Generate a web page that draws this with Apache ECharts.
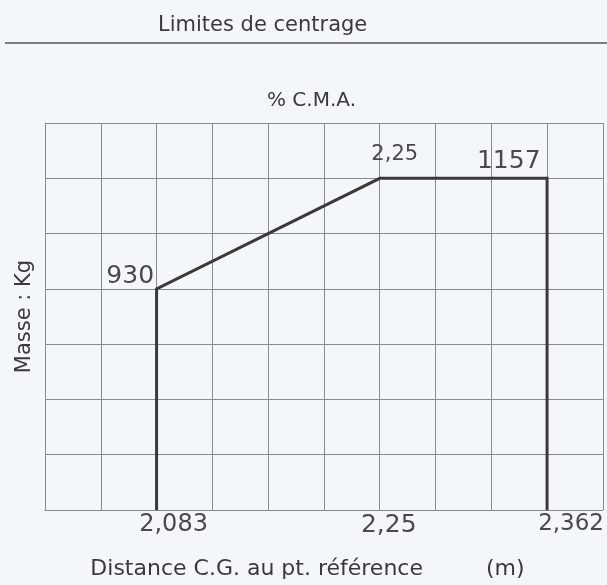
<!DOCTYPE html>
<html><head><meta charset="utf-8">
<script src="https://cdn.jsdelivr.net/npm/echarts@6/dist/echarts.min.js"></script>
<style>html,body{margin:0;padding:0;background:#f4f7fa}#c{width:607px;height:585px}</style>
</head><body><div id="c"></div>
<script>
// ---- data ----
const xCategories = ['', '', '2,083', '', '', '', '2,25', '', '', '2,362', ''];
const envelopeDistance = ['2,083', '2,083', '2,25', '2,362', '2,362'];
const envelopeMass = [476, 930, 1157, 1157, 476];
const pointLabels = ['', '930', '2,25', '1157', ''];
const massAxisMin = 476;
const massAxisMax = 1270.5;
const gridRows = 7;

// ---- layout / style ----
const FONT = 'DejaVu Sans';
const gridColor = '#868b92';
const inkColor = '#3a3a3a';
const handColor = '#4a4a4a';
const labelStyles = [
  null,
  { position: 'left', distance: 2, offset: [0, -12], fontSize: 25 },
  { position: 'top', distance: 5, offset: [15, -8], fontSize: 21 },
  { position: 'left', distance: 6, offset: [0, -17], fontSize: 25 },
  null
];
const xLabelRich = { '2,083': 'a', '2,25': 'b', '2,362': 'c' };

const seriesData = envelopeDistance.map((d, i) => {
  const item = { value: [xCategories.indexOf(d), envelopeMass[i]] };
  if (pointLabels[i] && labelStyles[i]) {
    item.label = Object.assign({
      show: true, formatter: pointLabels[i], color: handColor, fontFamily: FONT
    }, labelStyles[i]);
  }
  return item;
});

const chart = echarts.init(document.getElementById('c'), null, { renderer: 'canvas' });
chart.setOption({
  backgroundColor: '#f4f7fa',
  animation: false,
  title: [
    { text: 'Limites de centrage', left: 153, top: 10,
      textStyle: { fontFamily: FONT, fontSize: 21, fontWeight: 'normal', color: inkColor } },
    { text: '% C.M.A.', left: 262, top: 86,
      textStyle: { fontFamily: FONT, fontSize: 20, fontWeight: 'normal', color: inkColor } }
  ],
  graphic: [
    { type: 'line', shape: { x1: 5, y1: 43, x2: 607, y2: 43 },
      style: { stroke: '#555', lineWidth: 1.5 } }
  ],
  grid: { left: 45, right: 2, top: 123, bottom: 75 },
  xAxis: {
    type: 'category', data: xCategories, boundaryGap: false,
    axisLine: { show: true, lineStyle: { color: gridColor, width: 1 } },
    axisTick: { show: false },
    splitLine: { show: true, interval: 0, lineStyle: { color: gridColor, width: 1 } },
    axisLabel: {
      interval: 0, margin: 3, color: handColor, fontFamily: FONT, fontSize: 24,
      formatter: v => v ? '{' + xLabelRich[v] + '|' + v + '}' : '',
      rich: {
        a: { padding: [0, 0, 0, 34], fontSize: 24, color: handColor, fontFamily: FONT },
        b: { padding: [0, 0, 0, 18], fontSize: 25, color: handColor, fontFamily: FONT },
        c: { padding: [0, 0, 0, 48], fontSize: 23, color: handColor, fontFamily: FONT }
      }
    },
    name: 'Distance C.G. au pt. référence         (m)',
    nameLocation: 'middle', nameGap: 48,
    nameTextStyle: { fontFamily: FONT, fontSize: 22, color: inkColor, padding: [0, 33, 0, 0] }
  },
  yAxis: [
    {
      type: 'value', min: 0, max: gridRows, interval: 1,
      axisLabel: { show: false }, axisTick: { show: false },
      axisLine: { show: true, lineStyle: { color: gridColor, width: 1 } },
      splitLine: { show: true, lineStyle: { color: gridColor, width: 1 } },
      name: 'Masse : Kg', nameLocation: 'middle', nameGap: 10,
      nameTextStyle: { fontFamily: FONT, fontSize: 21, color: inkColor }
    },
    { type: 'value', min: massAxisMin, max: massAxisMax, show: false }
  ],
  series: [{
    type: 'line', yAxisIndex: 1, data: seriesData,
    symbol: 'circle', symbolSize: 1, showSymbol: true,
    itemStyle: { color: inkColor },
    lineStyle: { color: inkColor, width: 3, join: 'miter' }
  }]
});
</script></body></html>
